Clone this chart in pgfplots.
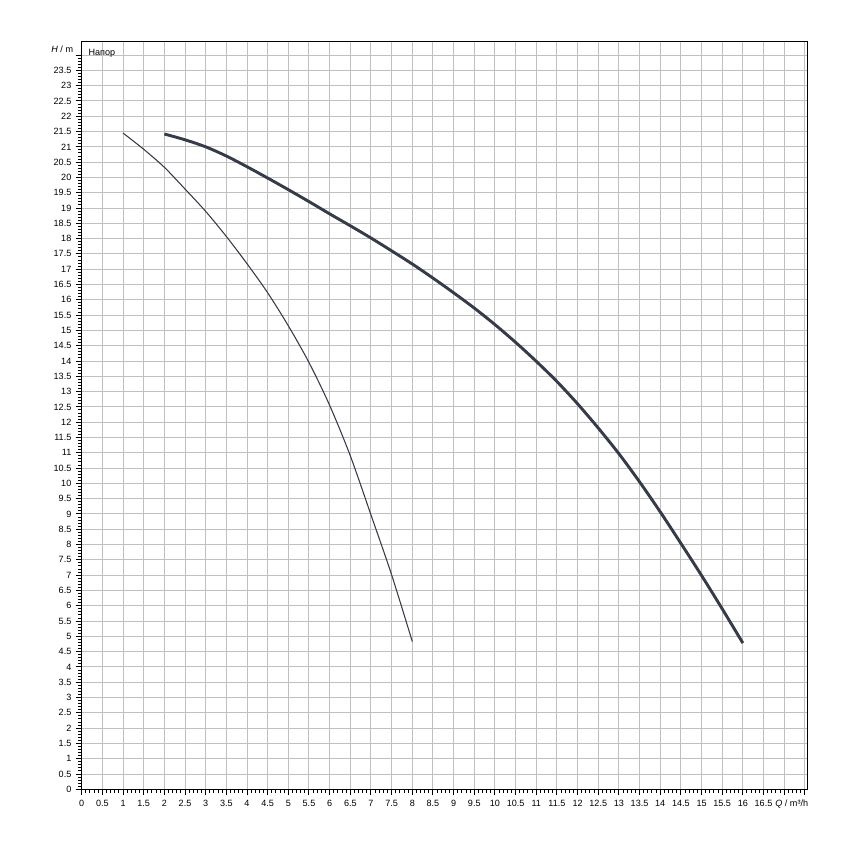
\documentclass[border=0pt]{standalone}
\usepackage{fontspec}
\setmainfont{Liberation Sans}
\usepackage{pgfplots}
\pgfplotsset{compat=1.18}
\definecolor{curve}{HTML}{353B48}
\definecolor{gridc}{HTML}{C0C0C0}
\begin{document}
\begin{tikzpicture}
\path[use as bounding box] (-61.3pt,-45.5pt) rectangle (576.2pt,592pt);
\begin{axis}[
  at={(0,0)}, anchor=south west, scale only axis,
  width=544.5pt, height=560.8pt,
  xmin=0, xmax=17.57, ymin=0, ymax=24.44,
  xtick={0,0.5,1,1.5,2,2.5,3,3.5,4,4.5,5,5.5,6,6.5,7,7.5,8,8.5,9,9.5,10,10.5,11,11.5,12,12.5,13,13.5,14,14.5,15,15.5,16,16.5,17,17.5},
  xticklabels={0,0.5,1,1.5,2,2.5,3,3.5,4,4.5,5,5.5,6,6.5,7,7.5,8,8.5,9,9.5,10,10.5,11,11.5,12,12.5,13,13.5,14,14.5,15,15.5,16,16.5,{},{}},
  ytick={0,0.5,1,1.5,2,2.5,3,3.5,4,4.5,5,5.5,6,6.5,7,7.5,8,8.5,9,9.5,10,10.5,11,11.5,12,12.5,13,13.5,14,14.5,15,15.5,16,16.5,17,17.5,18,18.5,19,19.5,20,20.5,21,21.5,22,22.5,23,23.5,24},
  yticklabels={0,0.5,1,1.5,2,2.5,3,3.5,4,4.5,5,5.5,6,6.5,7,7.5,8,8.5,9,9.5,10,10.5,11,11.5,12,12.5,13,13.5,14,14.5,15,15.5,16,16.5,17,17.5,18,18.5,19,19.5,20,20.5,21,21.5,22,22.5,23,23.5,{}},
  minor tick num=4,
  grid=major,
  major grid style={gridc, line width=0.75pt},
  axis line style={black, line width=1.1pt},
  tick style={black, line width=0.75pt},
  tick align=outside,
  major tick length=4.5pt, minor tick length=2.8pt,
  xtick pos=left, ytick pos=left,
  ticklabel style={font=\fontsize{6.8}{8}\selectfont, inner sep=0pt},
  yticklabel style={anchor=east, xshift=-3.1pt},
  xticklabel style={anchor=base, yshift=-8.5pt},
  clip=false,
]
\addplot[curve, line width=0.8pt, smooth] coordinates {
(1,21.45) (1.5,20.92) (2,20.33) (2.5,19.62) (3,18.89) (3.5,18.07) (4,17.18)
(4.5,16.23) (5,15.15) (5.5,13.95) (6,12.55) (6.5,10.9) (7,8.97) (7.5,7.01) (8,4.83)
};
\addplot[curve, line width=2.2pt, smooth] coordinates {
(2,21.42) (2.5,21.23) (3,21.0) (3.5,20.7) (4,20.35) (4.5,19.98) (5,19.6) (5.5,19.21)
(6,18.81) (6.5,18.42) (7,18.02) (7.5,17.6) (8,17.17) (8.5,16.71) (9,16.23) (9.5,15.73)
(10,15.19) (10.5,14.61) (11,13.99) (11.5,13.33) (12,12.6) (12.5,11.81) (13,10.97)
(13.5,10.05) (14,9.07) (14.5,8.04) (15,6.99) (15.5,5.9) (16,4.78)
};
\node[anchor=base west, inner sep=0pt, font=\fontsize{6.8}{8}\selectfont] at (axis cs:0.16,24.0) {Напор};
\node[anchor=base east, inner sep=0pt, font=\fontsize{6.8}{8}\selectfont] at ([xshift=-6.3pt]axis cs:0,24.08) {\textit{H} / m};
\node[anchor=base west, inner sep=0pt, font=\fontsize{6.8}{8}\selectfont] at ([yshift=-13pt]axis cs:16.78,0) {\textit{Q} / m³/h};
\end{axis}
\end{tikzpicture}
\end{document}
